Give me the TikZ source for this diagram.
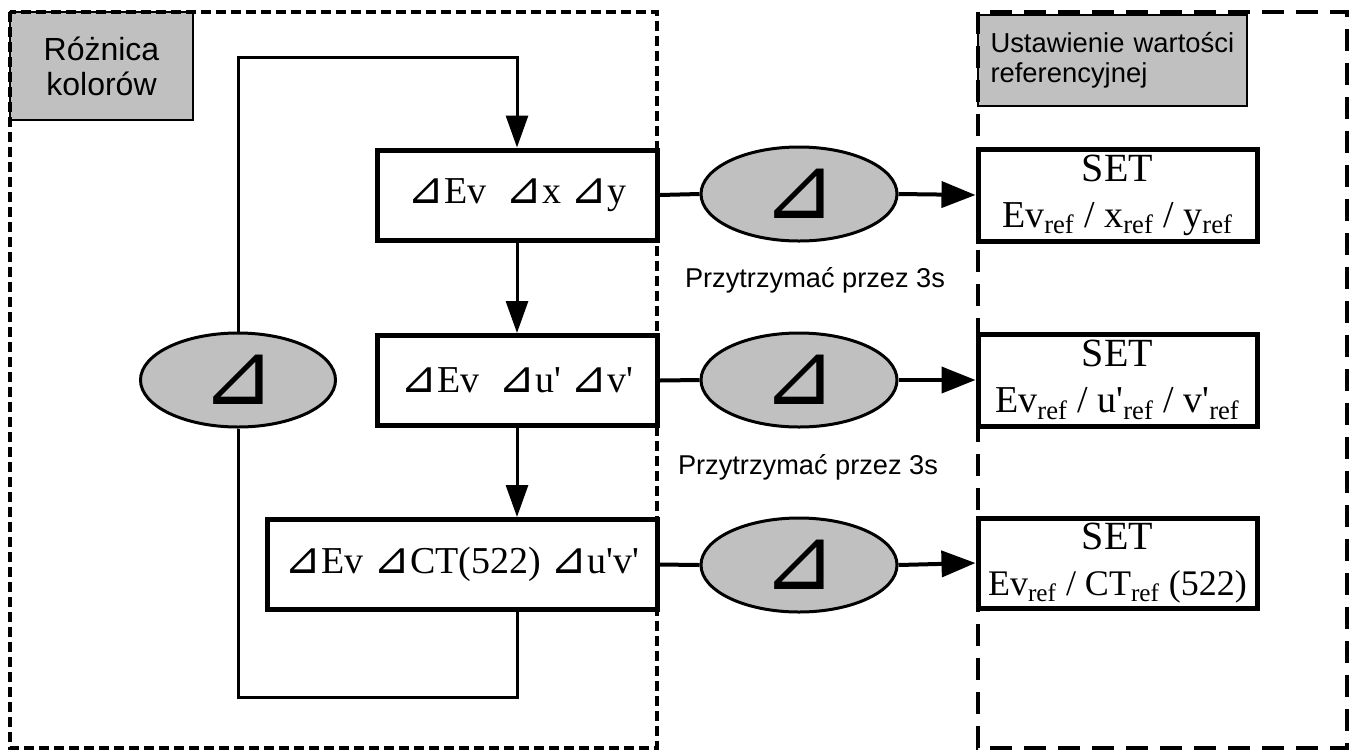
\documentclass[tikz,border=0pt]{standalone}
\usepackage{fontspec}
\setmainfont{Liberation Serif}
\newfontfamily\sansf{Liberation Sans}
\newfontfamily\symf{DejaVu Sans}
\usetikzlibrary{shapes.geometric,arrows.meta}
\definecolor{boxgray}{HTML}{C0C0C0}
\newcommand{\dlt}{{\symf\fontsize{22}{22}\selectfont ⊿}}
\newcommand{\q}{\textquotesingle}
\begin{document}
\begin{tikzpicture}[x=0.5pt,y=-0.5pt,
  databox/.style={draw, line width=2.5pt, minimum width=140pt, minimum height=45pt, inner sep=0pt, font=\fontsize{19}{22}\selectfont},
  setbox/.style={draw, line width=2.5pt, minimum width=139.5pt, minimum height=46pt, align=center, inner sep=0pt, font=\fontsize{19}{23}\selectfont},
  oval/.style={ellipse, draw, line width=1.5pt, fill=boxgray, minimum width=98pt, minimum height=47pt, inner sep=0pt, font=\symf\fontsize{44}{44}\selectfont},
  graylabel/.style={draw, fill=boxgray, line width=1pt, inner sep=0pt},
  hold/.style={font=\sansf\fontsize{13.6}{16}\selectfont},
  flow/.style={line width=1.5pt, -{Triangle[length=16pt,width=11pt]}},
  loopline/.style={line width=1.5pt},
  link/.style={line width=2pt},
  linkarrow/.style={line width=2pt, -{Triangle[length=17pt,width=13pt]}},
  frameA/.style={line width=2pt, dash pattern=on 5pt off 2.5pt},
  frameB/.style={line width=2pt, dash pattern=on 11pt off 6pt}
]
\useasboundingbox (0,0) rectangle (1354,751);

% gray labels
\node[graylabel, minimum width=91.5pt, minimum height=54pt, align=center,
      font=\sansf\fontsize{16}{17.5}\selectfont] (lab1) at (101.5,66) {Różnica\\kolorów};
\node[graylabel, minimum width=134.5pt, minimum height=45.5pt, text width=122pt, align=left,
      font=\sansf\fontsize{13.7}{15}\selectfont] (lab2) at (1112.5,60) {Ustawienie wartości\\referencyjnej};

% left boxes
\node[databox] (b1) at (517,195) {\dlt Ev \ \dlt x \dlt y};
\node[databox] (b2) at (517,380.5) {\dlt Ev \ \dlt u\q{} \dlt v\q};
\node[databox, minimum width=195pt] (b3) at (462,564.5) {\dlt Ev \dlt CT(522) \dlt u\q v\q};

% ovals
\node[oval] (e1) at (799,194) {⊿};
\node[oval] (e2) at (799,380) {⊿};
\node[oval] (e3) at (799,565) {⊿};
\node[oval, minimum width=97.5pt] (e0) at (238,380) {⊿};

% set boxes
\node[setbox] (s1) at (1117.5,195) {{\fontsize{20}{22}\selectfont SET}\\Ev\textsubscript{ref} / x\textsubscript{ref} / y\textsubscript{ref}};
\node[setbox] (s2) at (1117.5,380) {{\fontsize{20}{22}\selectfont SET}\\Ev\textsubscript{ref} / u\q\textsubscript{ref} / v\q\textsubscript{ref}};
\node[setbox, minimum height=45pt] (s3) at (1117.5,563) {{\fontsize{20}{22}\selectfont SET}\\{\fontsize{18}{22}\selectfont Ev\textsubscript{ref} / CT\textsubscript{ref} (522)}};

% hold labels
\node[hold] (h1) at (815,280) {Przytrzymać przez 3s};
\node[hold] (h2) at (808,467) {Przytrzymać przez 3s};

% connectors
\draw[link] (b1.east) -- (e1.west);
\draw[link] (b2.east) -- (e2.west);
\draw[link] (b3.east) -- (e3.west);
\draw[linkarrow] (e1.east) -- (s1.west);
\draw[linkarrow] (e2.east) -- (s2.west);
\draw[linkarrow] (e3.east) -- (s3.west);
\draw[flow] (b1.south) -- (b2.north);
\draw[flow] (b2.south) -- (b3.north -| b2.south);

% loop
\coordinate (lb) at (517,697);
\coordinate (lt) at (238,57);
\draw[loopline] (b3.south -| b1.south) -- (lb) -| (e0.south);
\draw[flow] (e0.north) -- (lt) -- (lt -| b1.north) -- (b1.north);

% frames
\draw[frameA] (10,12) rectangle (657,748);
\draw[frameB] (978,12) rectangle (1347,748);
\end{tikzpicture}
\end{document}
